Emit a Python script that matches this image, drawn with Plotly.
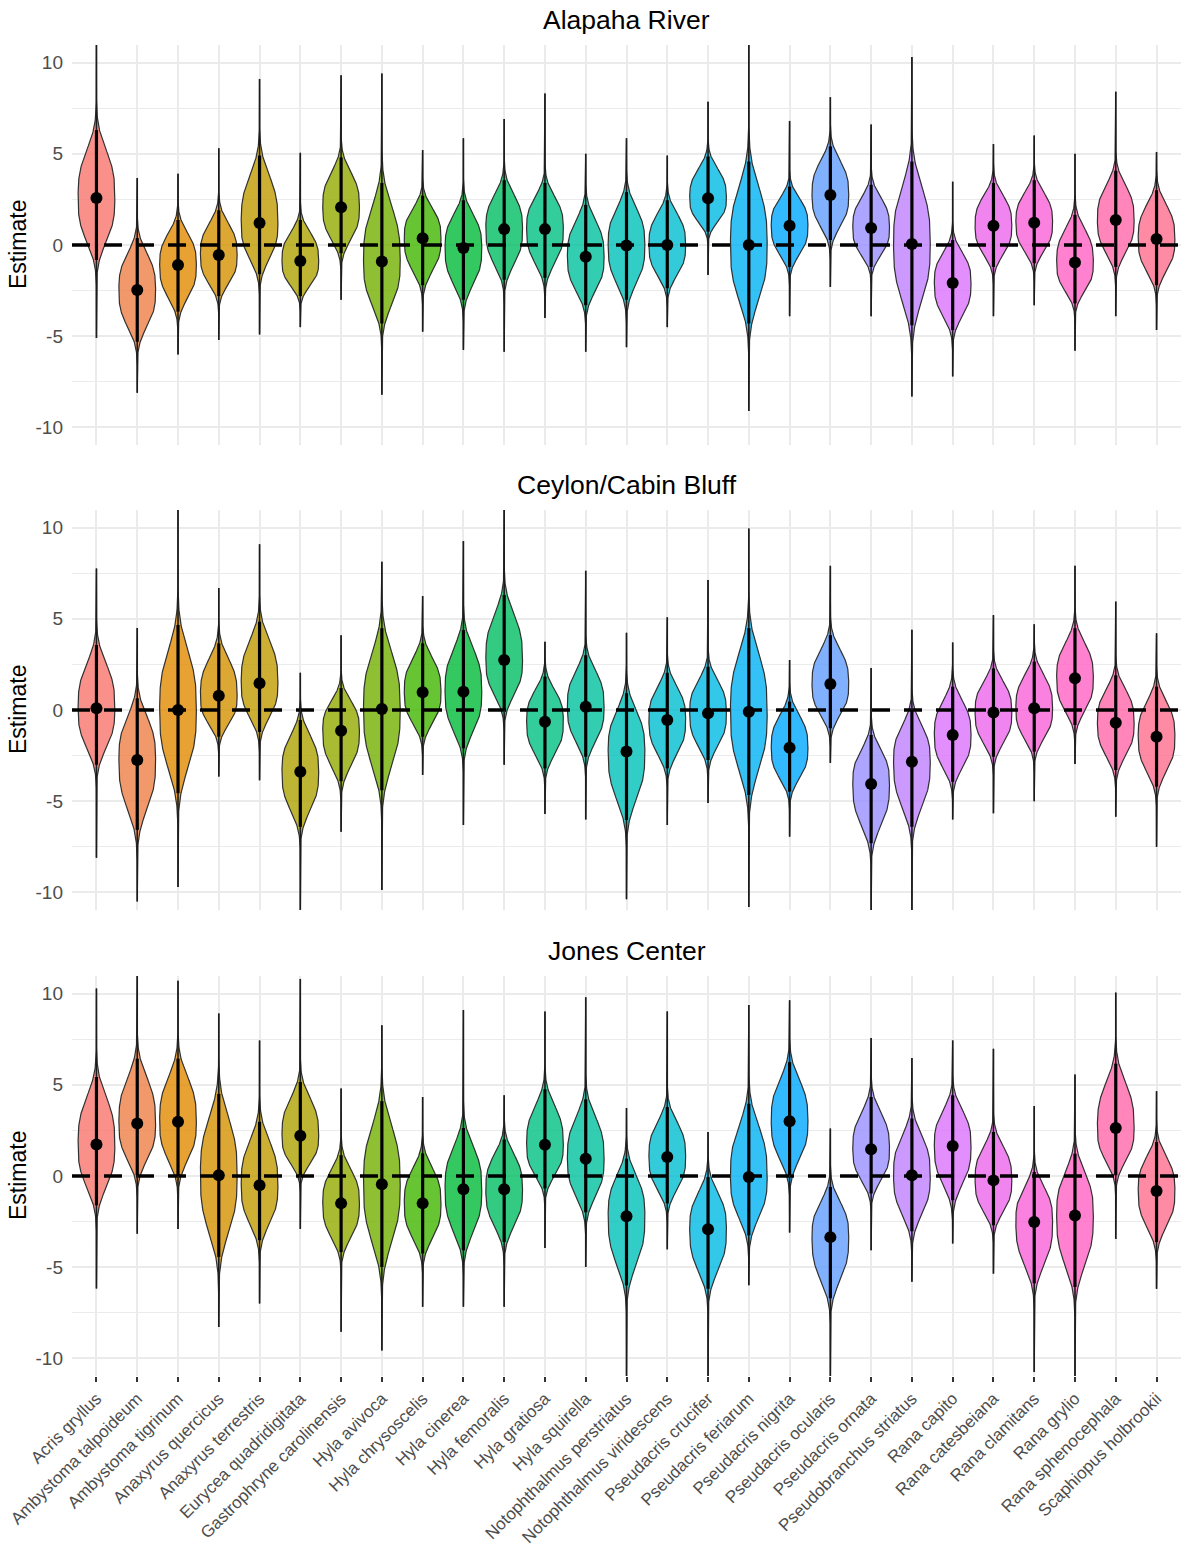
import math
import numpy as np
import plotly.graph_objects as go

# ---------------------------------------------------------------------------
# Posterior summaries per species and site
# med = posterior median, lo/hi = credible interval, mn/mx = full sample range
# ---------------------------------------------------------------------------
species = [
    "Acris gryllus", "Ambystoma talpoideum", "Ambystoma tigrinum",
    "Anaxyrus quercicus", "Anaxyrus terrestris", "Eurycea quadridigitata",
    "Gastrophryne carolinensis", "Hyla avivoca", "Hyla chrysoscelis",
    "Hyla cinerea", "Hyla femoralis", "Hyla gratiosa", "Hyla squirella",
    "Notophthalmus perstriatus", "Notophthalmus viridescens",
    "Pseudacris crucifer", "Pseudacris feriarum", "Pseudacris nigrita",
    "Pseudacris ocularis", "Pseudacris ornata", "Pseudobranchus striatus",
    "Rana capito", "Rana catesbeiana", "Rana clamitans", "Rana grylio",
    "Rana sphenocephala", "Scaphiopus holbrookii",
]

sites = ["Alapaha River", "Ceylon/Cabin Bluff", "Jones Center"]

# Alapaha River
alapaha_med = [2.57, -2.47, -1.10, -0.55, 1.20, -0.88, 2.07, -0.90, 0.37, -0.17, 0.87, 0.87, -0.65,
               -0.03, 0.00, 2.56, 0.00, 1.05, 2.74, 0.93, 0.05, -2.08, 1.06, 1.22, -0.96, 1.37, 0.33]
alapaha_lo = [-0.82, -5.30, -3.65, -2.80, -1.60, -2.80, -0.45, -4.30, -2.20, -3.00, -1.90, -1.80, -3.30,
              -3.00, -2.37, 0.73, -4.30, -1.20, 0.27, -1.20, -4.40, -4.66, -1.20, -1.00, -3.20, -1.20, -2.20]
alapaha_hi = [6.30, 0.38, 1.37, 1.90, 4.90, 1.37, 4.80, 3.40, 2.70, 2.45, 3.55, 3.40, 2.20,
              2.90, 2.45, 4.85, 4.57, 3.20, 5.40, 3.30, 4.57, 0.27, 3.40, 3.55, 1.65, 4.07, 3.00]
alapaha_mn = [-5.10, -8.10, -6.00, -5.20, -4.90, -4.50, -3.00, -8.20, -4.75, -5.75, -5.85, -4.00, -5.85,
              -5.60, -4.50, -1.65, -9.10, -3.90, -2.30, -3.90, -8.30, -7.20, -3.90, -3.30, -5.80, -3.90, -4.66]
alapaha_mx = [11.30, 3.67, 3.90, 5.30, 9.10, 5.05, 9.30, 9.40, 5.20, 5.85, 6.90, 8.30, 5.00,
              5.85, 4.90, 7.85, 11.30, 6.80, 8.10, 6.60, 10.30, 3.47, 5.53, 6.00, 5.00, 8.40, 5.10]

# Ceylon/Cabin Bluff
ceylon_med = [0.10, -2.74, 0.00, 0.78, 1.46, -3.38, -1.14, 0.05, 0.97, 1.00, 2.74, -0.64, 0.18,
              -2.28, -0.55, -0.18, -0.10, -2.07, 1.42, -4.05, -2.83, -1.37, -0.14, 0.10, 1.74, -0.70, -1.46]
ceylon_lo = [-3.00, -6.57, -4.56, -1.46, -1.20, -6.40, -3.90, -4.40, -1.46, -2.10, 0.00, -3.20, -2.56,
             -6.03, -3.20, -2.74, -4.66, -4.47, -1.00, -7.30, -6.40, -3.93, -2.56, -2.28, -0.82, -3.29, -4.20]
ceylon_hi = [3.56, 0.64, 4.66, 3.65, 4.84, -0.55, 1.20, 4.48, 3.65, 4.38, 6.30, 1.83, 3.00,
             0.92, 2.04, 2.37, 4.48, 0.46, 4.10, -1.37, 0.00, 1.28, 2.28, 2.65, 4.48, 1.90, 1.28]
ceylon_mn = [-8.10, -10.50, -9.70, -3.65, -3.85, -11.30, -6.67, -9.86, -3.56, -6.30, -3.00, -5.70, -6.00,
             -10.37, -6.30, -5.10, -10.80, -6.94, -2.90, -11.30, -11.30, -6.00, -5.66, -5.00, -2.96, -5.85, -7.50]
ceylon_mx = [7.76, 4.50, 11.30, 6.68, 9.08, 2.04, 4.10, 8.13, 6.25, 9.26, 11.30, 3.74, 7.63,
             4.23, 5.08, 7.12, 9.95, 2.74, 7.90, 2.30, 4.40, 3.70, 5.20, 4.70, 7.90, 5.94, 4.20]

# Jones Center
jones_med = [1.73, 2.88, 2.97, 0.04, -0.51, 2.20, -1.50, -0.45, -1.50, -0.73, -0.73, 1.71, 0.95,
             -2.20, 1.04, -2.92, -0.06, 3.00, -3.35, 1.46, 0.04, 1.64, -0.24, -2.52, -2.16, 2.63, -0.82]
jones_lo = [-1.60, 0.04, 0.00, -4.43, -3.52, 0.04, -4.17, -4.99, -4.24, -4.07, -3.62, -0.68, -1.99,
            -5.99, -1.50, -6.18, -3.25, 0.04, -6.70, -0.96, -3.03, -1.33, -2.70, -5.88, -6.08, 0.04, -3.62]
jones_hi = [5.42, 6.43, 6.43, 4.50, 2.97, 5.15, 1.14, 4.10, 1.24, 2.63, 2.00, 4.75, 4.20,
            0.95, 3.78, -0.06, 3.96, 6.24, -0.60, 4.33, 3.15, 4.42, 2.41, 0.22, 1.22, 6.16, 1.86]
jones_mn = [-6.16, -3.16, -2.90, -8.27, -6.99, -2.90, -8.54, -9.56, -7.17, -7.17, -7.17, -3.95, -4.99,
            -11.30, -4.02, -11.30, -5.99, -3.10, -11.30, -4.07, -5.80, -3.70, -5.35, -10.74, -11.30, -3.45, -6.18]
jones_mx = [10.27, 11.30, 10.70, 8.90, 7.43, 10.80, 4.80, 8.26, 4.33, 9.09, 4.42, 9.02, 9.80,
            3.72, 9.02, 2.41, 9.37, 9.63, 2.60, 7.56, 6.46, 7.43, 6.97, 3.83, 5.56, 10.05, 4.65]

y_ticks = [-10, -5, 0, 5, 10]
y_tick_labels = ["-10", "-5", "0", "5", "10"]

panels = [
    (alapaha_med, alapaha_lo, alapaha_hi, alapaha_mn, alapaha_mx),
    (ceylon_med, ceylon_lo, ceylon_hi, ceylon_mn, ceylon_mx),
    (jones_med, jones_lo, jones_hi, jones_mn, jones_mx),
]


def hue_colour(h, c=100.0, l=65.0, alpha=0.8):
    """Polar CIE-Luv (HCL) to sRGB, same scheme as ggplot2's default hue palette."""
    hr = math.radians(h)
    U, V = c * math.cos(hr), c * math.sin(hr)
    Xn, Yn, Zn = 95.047, 100.0, 108.883
    Y = Yn * ((l + 16) / 116) ** 3 if l > 8 else Yn * l / 903.3
    den = Xn + 15 * Yn + 3 * Zn
    un, vn = 4 * Xn / den, 9 * Yn / den
    u = U / (13 * l) + un
    v = V / (13 * l) + vn
    X = 9 * Y * u / (4 * v)
    Z = -X / 3 - 5 * Y + 3 * Y / v
    X, Y, Z = X / 100, Y / 100, Z / 100
    r = 3.2404542 * X - 1.5371385 * Y - 0.4985314 * Z
    g = -0.9692660 * X + 1.8760108 * Y + 0.0415560 * Z
    b = 0.0556434 * X - 0.2040259 * Y + 1.0572252 * Z

    def gam(t):
        t = 12.92 * t if t <= 0.0031308 else 1.055 * t ** (1 / 2.4) - 0.055
        return int(round(min(max(t, 0.0), 1.0) * 255))

    return "rgba({},{},{},{})".format(gam(r), gam(g), gam(b), alpha)


n = len(species)
hues = np.linspace(15, 375, n + 1)[:n]
colours = [hue_colour(h) for h in hues]

# pixel layout of the page
W, H = 1183, 1550
M_L, M_R, M_T, M_B = 72, 2, 45, 174
plot_h = H - M_T - M_B
panel_px = [(45, 445), (510, 910), (976, 1376)]  # top, bottom in page pixels
domains = [[(H - M_B - b) / plot_h, (H - M_B - t) / plot_h] for t, b in panel_px]
domains = [[max(0.0, d0), min(1.0, d1)] for d0, d1 in domains]

Y_RANGE = [-10.96, 10.96]
X_RANGE = [-0.6, n - 1 + 0.6]
HALF_W = 0.45
FONT = "Liberation Sans, Arial, Helvetica, sans-serif"

fig = go.Figure()


def violin_outline(i, med, lo, hi, mn, mx):
    """Flat-topped density outline, scaled per side by the interval, trimmed to the sample range."""
    ys = np.linspace(mn, mx, 300)
    d_lo = max(med - lo, 1e-6)
    d_hi = max(hi - med, 1e-6)
    t = np.where(ys < med, (med - ys) / d_lo, (ys - med) / d_hi)
    w = np.exp(-1.8 * t ** 3)
    w = HALF_W * w / w.max()
    xs = np.concatenate([i + w, (i - w)[::-1]])
    yy = np.concatenate([ys, ys[::-1]])
    return xs, yy


for p, (med, lo, hi, mn, mx) in enumerate(panels):
    xa = "x" if p == 0 else f"x{p + 1}"
    ya = "y" if p == 0 else f"y{p + 1}"

    for i in range(n):
        xs, yy = violin_outline(i, med[i], lo[i], hi[i], mn[i], mx[i])
        fig.add_trace(go.Scatter(
            x=xs, y=yy, mode="lines", fill="toself", fillcolor=colours[i],
            line=dict(color="#303030", width=1.2), xaxis=xa, yaxis=ya,
            hoverinfo="skip", showlegend=False,
        ))

    # reference line at zero
    fig.add_trace(go.Scatter(
        x=X_RANGE, y=[0, 0], mode="lines",
        line=dict(color="black", width=3.5, dash="18px,14px"),
        xaxis=xa, yaxis=ya, hoverinfo="skip", showlegend=False,
    ))

    # full range (thin) and credible interval (thick)
    tx, ty, kx, ky = [], [], [], []
    for i in range(n):
        tx += [i, i, None]
        ty += [mn[i], mx[i], None]
        kx += [i, i, None]
        ky += [lo[i], hi[i], None]
    fig.add_trace(go.Scatter(
        x=tx, y=ty, mode="lines", line=dict(color="#1c1c1c", width=1.6),
        xaxis=xa, yaxis=ya, hoverinfo="skip", showlegend=False,
    ))
    fig.add_trace(go.Scatter(
        x=kx, y=ky, mode="lines", line=dict(color="black", width=3.2),
        xaxis=xa, yaxis=ya, hoverinfo="skip", showlegend=False,
    ))
    fig.add_trace(go.Scatter(
        x=list(range(n)), y=med, mode="markers",
        marker=dict(color="black", size=12, line=dict(width=0)),
        xaxis=xa, yaxis=ya, hoverinfo="text", text=species, showlegend=False,
        cliponaxis=False,
    ))

grid_col = "#EBEBEB"
layout = dict(
    width=W, height=H,
    margin=dict(l=M_L, r=M_R, t=M_T, b=M_B, pad=0, autoexpand=False),
    paper_bgcolor="white", plot_bgcolor="white",
    font=dict(family=FONT, color="black"),
    showlegend=False,
)

annotations = []
for p in range(3):
    xk = "xaxis" if p == 0 else f"xaxis{p + 1}"
    yk = "yaxis" if p == 0 else f"yaxis{p + 1}"
    yanchor_name = "y" if p == 0 else f"y{p + 1}"
    xanchor_name = "x" if p == 0 else f"x{p + 1}"
    bottom = p == 2
    layout[xk] = dict(
        domain=[0, 1], anchor=yanchor_name, range=X_RANGE,
        tickmode="array", tickvals=list(range(n)),
        ticktext=species if bottom else [""] * n,
        showticklabels=bottom, tickangle=-45, automargin=False,
        ticklabeloverflow="allow",
        tickfont=dict(size=17, color="#4D4D4D", family=FONT),
        ticks="outside" if bottom else "", ticklen=5, tickwidth=1.8, tickcolor="#333333",
        showgrid=True, gridcolor=grid_col, gridwidth=1.6,
        zeroline=False, showline=False,
    )
    layout[yk] = dict(
        domain=domains[p], anchor=xanchor_name, range=Y_RANGE, automargin=False,
        tickmode="array", tickvals=y_ticks, ticktext=y_tick_labels,
        tickfont=dict(size=19, color="#4D4D4D", family=FONT),
        ticks="", ticklabelstandoff=8,
        showgrid=True, gridcolor=grid_col, gridwidth=1.6,
        minor=dict(tickvals=[-7.5, -2.5, 2.5, 7.5], showgrid=True,
                   gridcolor=grid_col, gridwidth=1.0, ticks=""),
        zeroline=False, showline=False,
    )
    top = domains[p][1]
    mid = (domains[p][0] + domains[p][1]) / 2
    annotations.append(dict(
        text=sites[p], xref="paper", yref="paper", x=0.5, y=top,
        xanchor="center", yanchor="middle", yshift=25, showarrow=False,
        font=dict(size=26.5, color="black", family=FONT),
    ))
    annotations.append(dict(
        text="Estimate", xref="paper", yref="paper", x=0, y=mid,
        xanchor="center", yanchor="middle", xshift=-54, textangle=-90,
        showarrow=False, font=dict(size=23, color="black", family=FONT),
    ))
layout["annotations"] = annotations

fig.update_layout(**layout)
fig.write_html("out.html")
